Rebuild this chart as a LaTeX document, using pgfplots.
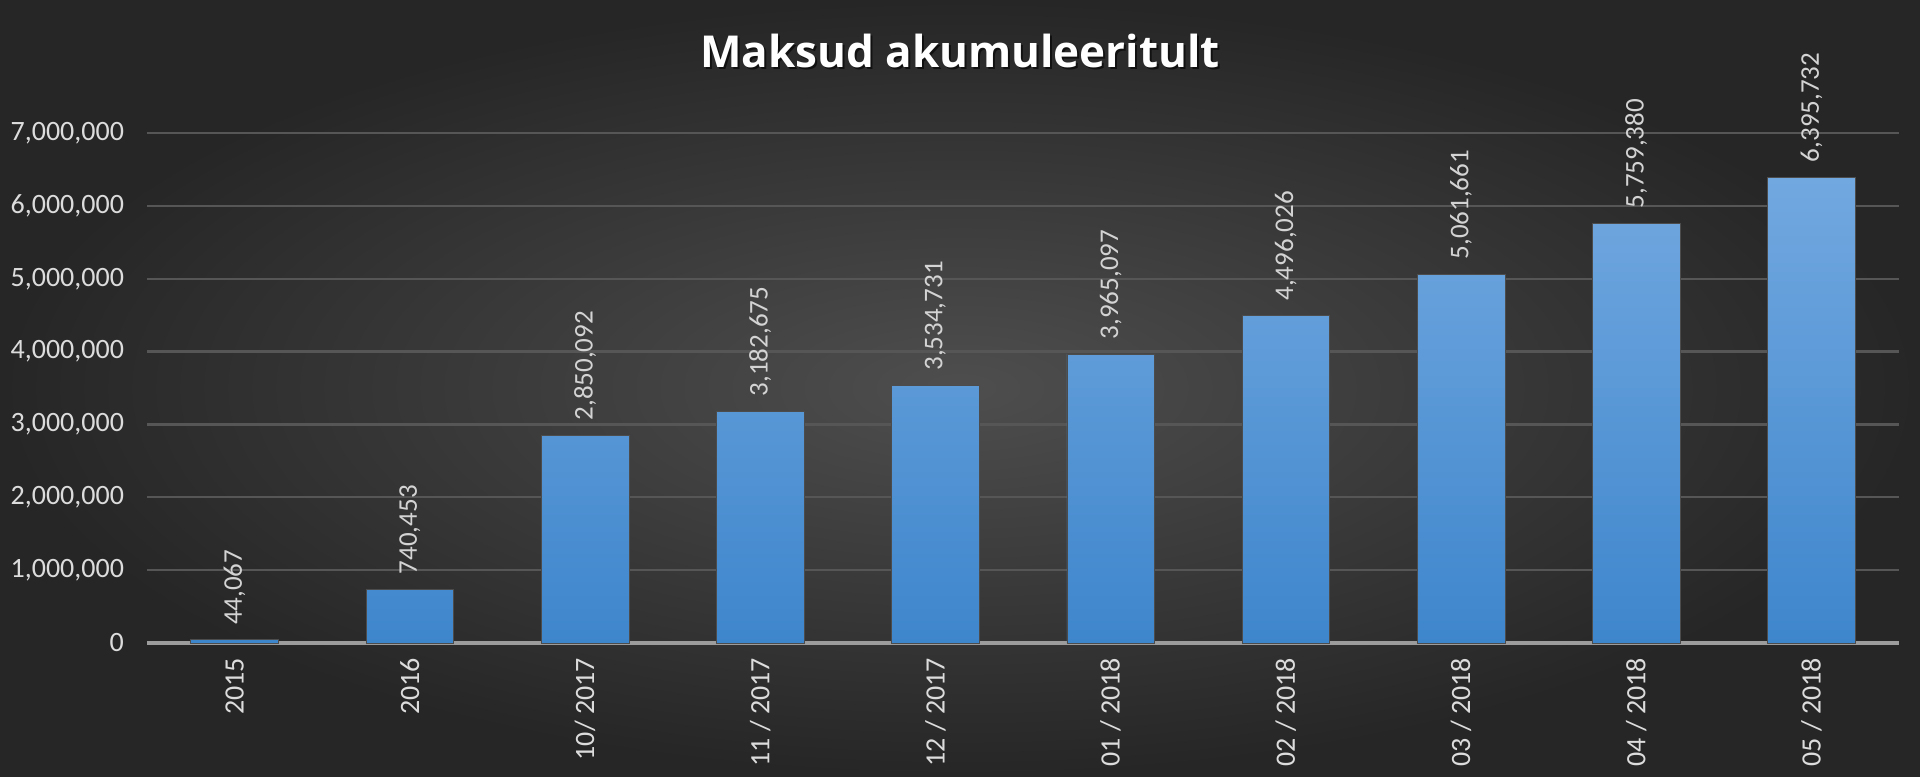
\documentclass[border=0pt]{standalone}
\usepackage{pgfplots}
\pgfplotsset{compat=1.18}
\usepackage{pgfplotstable}
\usepackage{fontspec}
\setmainfont{Carlito}
\newfontfamily\titlefont{Open Sans}
\usetikzlibrary{backgrounds,calc}

\definecolor{bgin}{HTML}{4E4E4E}
\definecolor{bgout}{HTML}{262626}
\definecolor{gridc}{HTML}{565656}
\definecolor{axisc}{HTML}{9C9C9C}
\definecolor{bartop}{HTML}{72A8E0}
\definecolor{barbot}{HTML}{3E86CC}
\definecolor{txt}{HTML}{DCDCDC}

% cumulative taxes
\pgfplotstableread{
x  y        lab
0  44067    44,067
1  740453   740,453
2  2850092  2,850,092
3  3182675  3,182,675
4  3534731  3,534,731
5  3965097  3,965,097
6  4496026  4,496,026
7  5061661  5,061,661
8  5759380  5,759,380
9  6395732  6,395,732
}\maksud

\begin{document}
\begin{tikzpicture}
\begin{axis}[
    name=ax,
    scale only axis,
    width=876pt, height=255pt,
    xmin=-0.5, xmax=9.5,
    ymin=0, ymax=7000000,
    clip=false,
    ybar, bar width=0.5,
    separate axis lines,
    axis x line*=bottom,
    axis y line*=left,
    x axis line style={draw=axisc, line width=2.2pt, -},
    y axis line style={draw=none},
    major tick length=0pt,
    ymajorgrids,
    grid style={draw=gridc, line width=1.1pt},
    xtick={0,...,9},
    xticklabels={2015, 2016, 10/ 2017, 11 / 2017, 12 / 2017, 01 / 2018, 02 / 2018, 03 / 2018, 04 / 2018, 05 / 2018},
    xticklabel style={rotate=90, anchor=east, font=\fontsize{14}{16}\selectfont, text=txt, xshift=-4pt},
    ytick={0,1000000,...,7000000},
    scaled y ticks=false,
    /pgf/number format/assume math mode=true,
    yticklabel={\pgfmathprintnumber[fixed,precision=0,1000 sep={,}]{\tick}},
    yticklabel style={font=\fontsize{14}{16}\selectfont, text=txt, xshift=-8pt},
    point meta=explicit symbolic,
    nodes near coords,
    every node near coord/.append style={rotate=90, anchor=west, xshift=4pt,
        font=\fontsize{13.5}{15}\selectfont, text=txt!90!gray},
]
\addplot[draw=black!70, line width=0.3pt, shade, top color=bartop, bottom color=barbot]
    table[x=x, y=y, meta=lab] {\maksud};
\end{axis}

% title with a soft shadow
\node[font=\titlefont\bfseries\fontsize{22}{25}\selectfont, text=black, opacity=0.6]
    at ($(ax.south west)+(407.5pt,295pt)$) {Maksud akumuleeritult};
\node[font=\titlefont\bfseries\fontsize{22}{25}\selectfont, text=white]
    at ($(ax.south west)+(406.5pt,296pt)$) {Maksud akumuleeritult};

\begin{scope}[on background layer]
\shade[inner color=bgin, outer color=bgout]
    ($(ax.south west)+(-73.5pt,-66.5pt)$) rectangle ++(960pt,388pt);
\end{scope}
\end{tikzpicture}
\end{document}
